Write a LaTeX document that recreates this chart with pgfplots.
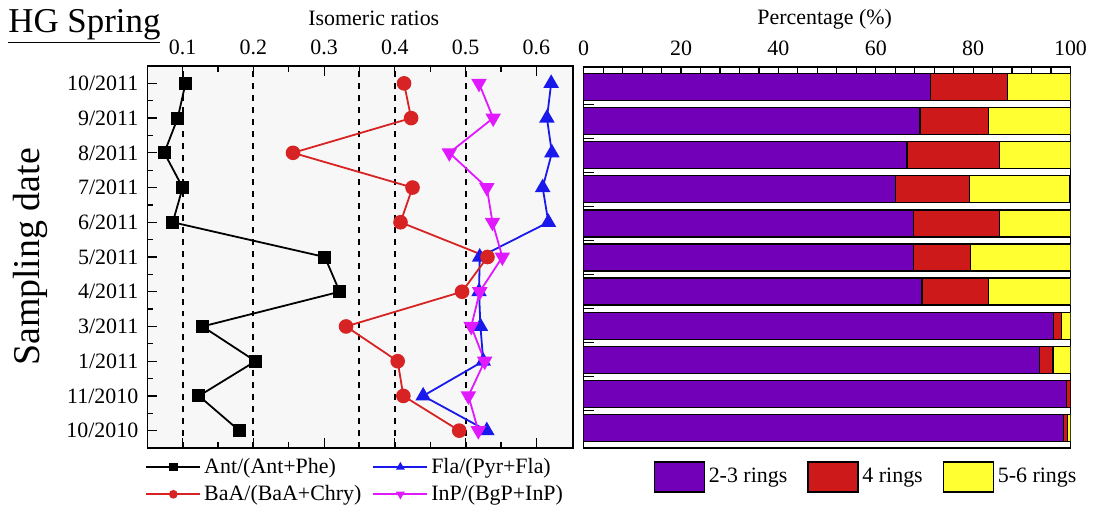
\documentclass[border=0pt]{standalone}
\usepackage{fontspec}
\setmainfont{Liberation Serif}
\usepackage{pgfplots}
\pgfplotsset{compat=1.18}
\definecolor{cpurple}{RGB}{115,0,185}
\definecolor{cred}{RGB}{205,25,25}
\definecolor{cyellow}{RGB}{255,255,50}
\definecolor{lred}{RGB}{215,35,35}
\definecolor{lblue}{RGB}{25,25,235}
\definecolor{lmag}{RGB}{225,25,255}
\pgfplotsset{every axis/.append style={font=\fontsize{11}{13}\selectfont}}
\begin{document}
\begin{tikzpicture}[font=\fontsize{11}{13}\selectfont]
\path[use as bounding box] (0,0) rectangle (548bp,-255.5bp);
\node[anchor=base west, inner sep=0, font=\fontsize{17.5}{20}\selectfont] at (4bp,-16bp) {\underline{HG Spring}};
% left panel
\begin{axis}[
  at={(73.65bp,-33bp)}, anchor=north west,
  width=212.9bp, height=191bp, scale only axis,
  xmin=0.05, xmax=0.652, ymin=-0.5, ymax=10.5,
  xtick={0.1,0.2,0.3,0.4,0.5,0.6},
  minor x tick num=1,
  xtick pos=both, xticklabel pos=right,
  ytick={0,1,2,3,4,5,6,7,8,9,10},
  yticklabels={10/2010,11/2010,1/2011,3/2011,4/2011,5/2011,6/2011,7/2011,8/2011,9/2011,10/2011},
  ytick pos=left, minor y tick num=1,
  tick align=inside,
  major tick length=5bp, minor tick length=3bp,
  tick style={black, line width=0.6bp},
  axis line style={line width=0.7bp},
  /pgf/number format/assume math mode=true,
  xticklabel style={/pgf/number format/fixed, /pgf/number format/precision=1, yshift=2bp},
  yticklabel style={xshift=-1bp},
  axis background/.style={fill=black!3},
  xlabel={Isomeric ratios},
  xlabel style={at={(axis description cs:0.532,1)}, anchor=center, yshift=24bp},
  ylabel={Sampling date},
  ylabel style={at={(axis description cs:-0.2755,0.5)}, anchor=center, rotate=0, font=\fontsize{19}{22}\selectfont},
  legend cell align=left,
  legend style={at={(-0.01,-0.012)}, anchor=north west, draw=none, fill=none,
    legend columns=2, font=\fontsize{11}{13}\selectfont,
    nodes={inner sep=1.5bp},
    /tikz/every even column/.append style={column sep=4bp},
    row sep=1.5bp, inner sep=1bp},
  legend image code/.code={\draw[mark repeat=2,mark phase=2,#1, mark size=1.7bp] plot coordinates {(0bp,0bp) (13.5bp,0bp) (27bp,0bp)};},
]
\addplot[black, dashed, line width=1bp, forget plot] coordinates {(0.1,-0.5) (0.1,10.5)};
\addplot[black, dashed, line width=1bp, forget plot] coordinates {(0.2,-0.5) (0.2,10.5)};
\addplot[black, dashed, line width=1bp, forget plot] coordinates {(0.35,-0.5) (0.35,10.5)};
\addplot[black, dashed, line width=1bp, forget plot] coordinates {(0.4,-0.5) (0.4,10.5)};
\addplot[black, dashed, line width=1bp, forget plot] coordinates {(0.5,-0.5) (0.5,10.5)};
\addplot[black, line width=0.9bp, mark=square*, mark size=2.8bp, mark options={solid}] coordinates {
(0.180,0) (0.123,1) (0.203,2) (0.128,3) (0.322,4) (0.301,5) (0.086,6) (0.100,7) (0.074,8) (0.093,9) (0.104,10)};
\addlegendentry{Ant/(Ant+Phe)}
\addplot[lblue, line width=0.9bp, mark=triangle*, mark size=3.6bp, mark options={solid}] coordinates {
(0.530,0) (0.440,1) (0.525,2) (0.521,3) (0.519,4) (0.520,5) (0.617,6) (0.609,7) (0.622,8) (0.615,9) (0.621,10)};
\addlegendentry{Fla/(Pyr+Fla)}
\addplot[lred, line width=0.9bp, mark=*, mark size=3.2bp, mark options={solid}] coordinates {
(0.491,0) (0.412,1) (0.404,2) (0.331,3) (0.495,4) (0.531,5) (0.408,6) (0.425,7) (0.256,8) (0.423,9) (0.413,10)};
\addlegendentry{BaA/(BaA+Chry)}
\addplot[lmag, line width=0.9bp, mark=triangle*, mark size=3.6bp, mark options={solid, rotate=180}] coordinates {
(0.518,0) (0.504,1) (0.527,2) (0.508,3) (0.520,4) (0.552,5) (0.538,6) (0.530,7) (0.477,8) (0.539,9) (0.519,10)};
\addlegendentry{InP/(BgP+InP)}
\end{axis}
% right panel
\begin{axis}[
  at={(291.85bp,-33.5bp)}, anchor=north west,
  width=243.4bp, height=190.5bp, scale only axis,
  xbar stacked, bar width=13.5bp,
  xmin=0, xmax=100, ymin=-0.59, ymax=10.59,
  xtick={0,20,40,60,80,100}, minor x tick num=4,
  xtick pos=right, xticklabel pos=right,
  ytick={0.5,1.5,2.5,3.5,4.5,5.5,6.5,7.5,8.5,9.5}, yticklabels={},
  ytick pos=left,
  tick align=inside,
  major tick length=5bp, minor tick length=3bp,
  tick style={black, line width=0.6bp},
  axis line style={line width=0.7bp},
  /pgf/number format/assume math mode=true,
  xticklabel style={yshift=2bp},
  xlabel={Percentage (\%)},
  xlabel style={at={(axis description cs:0.495,1)}, anchor=center, yshift=24bp},
  legend style={at={(0.582,-0.076)}, anchor=center, draw=none, fill=none,
    legend columns=3, font=\fontsize{11}{13}\selectfont,
    /tikz/every even column/.append style={column sep=8bp}},
  legend image code/.code={\draw[#1] (0bp,-7.5bp) rectangle (25bp,7.5bp);},
]
\addplot[fill=cpurple, draw=black, line width=0.6bp] coordinates {
(98.5,0) (99.1,1) (93.6,2) (96.5,3) (69.5,4) (67.8,5) (67.8,6) (64.1,7) (66.4,8) (69.1,9) (71.2,10)};
\addlegendentry{2-3 rings}
\addplot[fill=cred, draw=black, line width=0.6bp] coordinates {
(0.8,0) (0.9,1) (2.8,2) (1.7,3) (13.7,4) (11.7,5) (17.6,6) (15.1,7) (19.0,8) (14.1,9) (15.9,10)};
\addlegendentry{4 rings}
\addplot[fill=cyellow, draw=black, line width=0.6bp] coordinates {
(0.7,0) (0.0,1) (3.6,2) (1.8,3) (16.8,4) (20.5,5) (14.6,6) (20.7,7) (14.6,8) (16.8,9) (12.9,10)};
\addlegendentry{5-6 rings}
\end{axis}
\end{tikzpicture}
\end{document}
